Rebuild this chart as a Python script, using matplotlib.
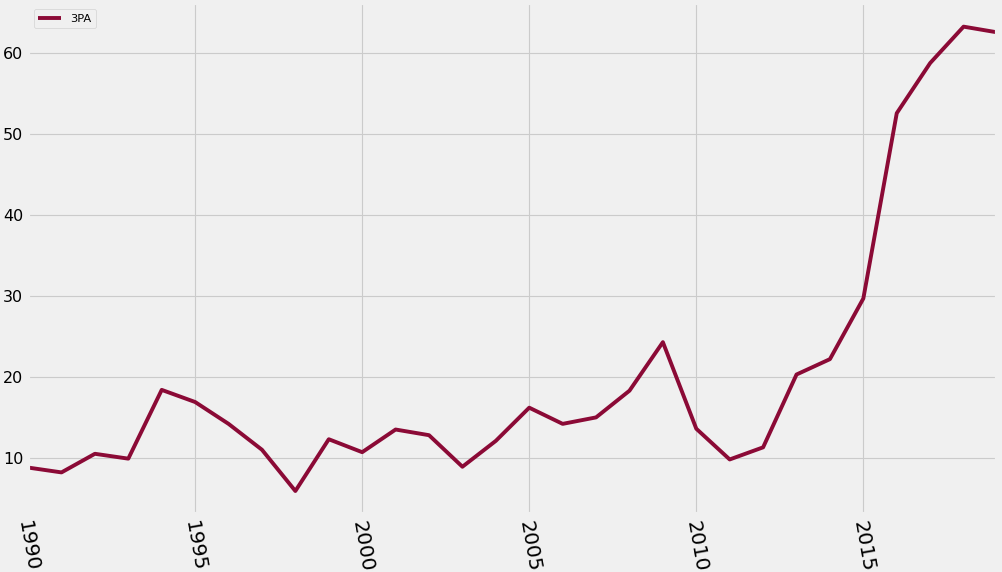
import matplotlib
matplotlib.use("Agg")
import matplotlib.pyplot as plt

plt.style.use("fivethirtyeight")

years = list(range(1990, 2020))
three_pa = [8.8, 8.2, 10.5, 9.9, 18.4, 16.9, 14.2, 11.0, 5.9, 12.3,
            10.7, 13.5, 12.8, 8.9, 12.1, 16.2, 14.2, 15.0, 18.3, 24.3,
            13.6, 9.8, 11.3, 20.3, 22.2, 29.7, 52.6, 58.8, 63.3, 62.6]
series_name = "3PA"
x_ticks = [1990, 1995, 2000, 2005, 2010, 2015]
y_ticks = [10, 20, 30, 40, 50, 60]

fig = plt.figure(figsize=(10.03, 5.72), dpi=100)
fig.patch.set_facecolor("#f0f0f0")
ax = fig.add_axes([0.028, 0.101, 0.966, 0.893])
ax.set_facecolor("#f0f0f0")
ax.plot(years, three_pa, color="#8b0a36", lw=2.8, label=series_name)
ax.set_xlim(years[0], years[-1])
ax.set_xticks(x_ticks)
ax.set_yticks(y_ticks)
ax.tick_params(axis="x", labelsize=14.5, labelrotation=-80)
ax.tick_params(axis="y", labelsize=11.5)
for lbl in ax.get_xticklabels():
    lbl.set_ha("center")
    lbl.set_va("top")
ax.grid(True, color="#cbcbcb", lw=0.8)
ax.legend(loc="upper left", fontsize=8.2, frameon=True)
fig.savefig("out.png", dpi=100, facecolor=fig.get_facecolor())
